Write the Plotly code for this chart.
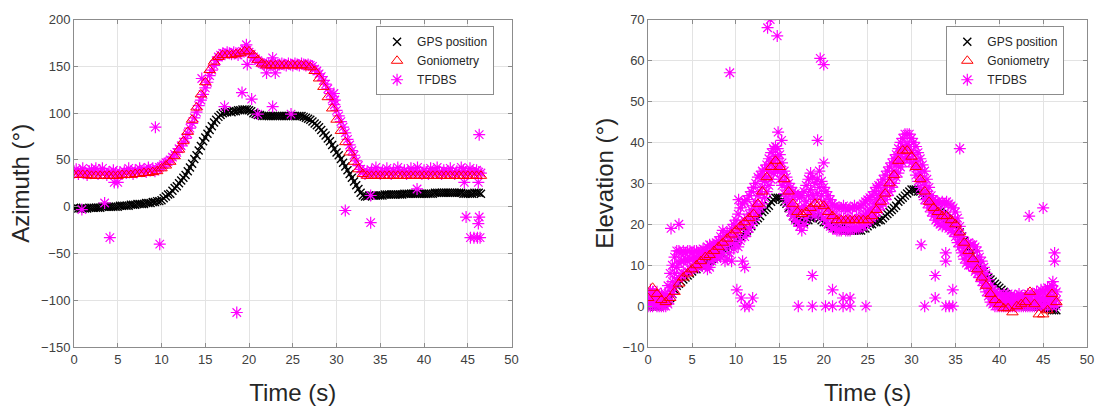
import plotly.graph_objects as go

# ---------------- sample times (s) ----------------
t_fast = [round(k * 0.25, 2) for k in range(187)]   # GPS / TFDBS samples, 0 .. 46.5 s
t_slow = [round(k * 0.5, 2) for k in range(94)]     # goniometry samples, 0 .. 46.5 s

# ---------------- azimuth (deg) ----------------
az_gps = [
    -1, -1, -2, -2,  -2, -2, -2, -1,  -1, -1, -1, -1,  -1, 0, 0, 0,  0, 0, 0, 0,
    0, 1, 1, 1,  1, 1, 2, 2,  2, 3, 3, 3,  3, 4, 4, 4,  5, 5, 6, 6,
    7, 9, 11, 13,  14, 17, 20, 22,  25, 28, 31, 34,  38, 42, 46, 51,  55, 60, 65, 70,
    74, 78, 82, 86,  90, 93, 96, 98,  100, 101, 101, 102,  101, 102, 102, 103,  103, 104, 104, 104,
    103, 102, 100, 99,  98, 98, 97, 97,  97, 97, 97, 97,  97, 97, 97, 97,  97, 97, 97, 97,
    97, 97, 97, 97,  97, 96, 95, 94,  93, 91, 89, 87,  85, 82, 79, 76,  73, 70, 66, 62,
    58, 55, 51, 47,  43, 39, 35, 31,  27, 23, 19, 15,  12, 11, 11, 12,  12, 12, 12, 12,
    12, 12, 13, 13,  13, 13, 13, 13,  13, 13, 13, 14,  14, 14, 14, 14,  14, 14, 14, 14,
    14, 14, 14, 14,  14, 15, 15, 15,  15, 15, 15, 15,  15, 15, 15, 15,  15, 15, 14, 14,
    14, 14, 14, 15,  15, 15, 14,
]

az_gonio = [
    34, 34, 34, 34, 33, 33, 33, 33, 33, 33,
    33, 34, 34, 34, 35, 35, 36, 36, 37, 38,
    41, 44, 48, 54, 61, 70, 80, 93, 106, 120,
    133, 146, 155, 160, 162, 162, 162, 163, 164, 166,
    166, 162, 157, 153, 151, 151, 151, 151, 151, 151,
    151, 151, 151, 151, 149, 145, 137, 128, 117, 105,
    93, 81, 69, 58, 48, 40, 35, 33, 33, 33,
    33, 33, 33, 33, 33, 33, 33, 33, 33, 33,
    33, 33, 33, 33, 33, 33, 33, 33, 33, 33,
    33, 33, 33, 33,
]

az_tfdbs = [
    38, 40, 35, 37,  41, 36, 34, 38,  40, 37, 41, 35,  38, 41, 36, 34,  37, 35, 39, 36,
    34, 37, 35, 38,  36, 41, 38, 35,  39, 37, 41, 38,  40, 37, 42, 39,  41, 38, 40, 42,
    43, 45, 47, 48,  50, 53, 56, 58,  62, 65, 69, 73,  78, 84, 89, 95,  101, 108, 114, 120,
    127, 133, 140, 146,  151, 156, 160, 162,  164, 163, 165, 164,  163, 165, 164, 162,  164, 166, 168, 167,
    165, 163, 160, 158,  156, 154, 153, 152,  152, 153, 151, 152,  153, 151, 152, 153,  152, 151, 153, 152,
    151, 153, 152, 151,  153, 152, 151, 152,  151, 150, 147, 145,  142, 139, 135, 131,  126, 121, 115, 109,
    103, 97, 91, 85,  79, 72, 66, 60,  55, 49, 44, 40,  37, 35, 38, 36,  39, 36, 42, 37,
    35, 38, 36, 41,  37, 35, 39, 36,  42, 38, 36, 39,  35, 37, 41, 36,  38, 42, 36, 35,
    39, 37, 35, 41,  36, 38, 42, 37,  35, 39, 36, 38,  41, 37, 35, 38,  36, 42, 39, 37,
    35, 41, 38, 36,  39, 37, 36,
]

# isolated TFDBS azimuth estimates
az_out_t = [0.9, 3.5, 4.1, 4.6, 5.0, 9.3, 9.8, 14.6, 17.2, 18.6, 19.2, 19.7, 19.8, 20.3,
            21.0, 22.0, 22.7, 23.0, 22.7, 24.8, 29.7, 29.8, 31.0, 33.9, 33.9, 39.2, 44.6,
            44.8, 45.3, 45.7, 46.1, 46.4, 46.2, 46.3, 46.3, 46.2]
az_out_v = [-3, 4, -33, 26, 26, 85, -40, 137, 107, -113, 122, 173, 152, 115,
            99, 143, 159, 143, 107, 99, 121, 114, -4, -17, 12, 19, 26,
            -11, -33, -33, -33, -33, -18, -11, 77, 26]

# ---------------- elevation (deg) ----------------
el_gps = [
    0, 0, 0, 0,  0, 0, 0.5, 0.5,  1, 1.5, 2, 3,  4, 5, 5.5, 6,  6.5, 7, 7.5, 8,
    8.5, 9, 9, 9.5,  10, 10, 10.5, 11,  11, 11.5, 12, 12,  12.5, 13, 13, 13.5,  14, 14.5, 15, 15.5,
    16, 16.5, 17, 17.5,  18, 18.5, 19, 19.5,  20.5, 21, 21.5, 22,  23, 23.5, 24, 24.5,  25.5, 26, 26.5, 26.5,
    26.5, 26, 25.5, 25,  24, 23, 22, 21.5,  21, 20.5, 20.5, 20.5,  21, 21, 21.5, 21.5,  22, 22, 21.5, 21,
    20.5, 20.5, 20, 20,  19.5, 19.5, 19, 19,  19, 18.5, 18.5, 18.5,  18.5, 18.5, 18.5, 18.5,  18.5, 18.5, 19, 19,
    19.5, 20, 20, 20.5,  20.5, 21, 21, 21.5,  22, 22.5, 23, 23.5,  24, 24.5, 25.5, 26,  26.5, 27, 27.5, 28,
    28.5, 28.5, 28.5, 28,  28, 27.5, 27, 26.5,  26, 25.5, 25, 24.5,  23.5, 23, 22.5, 22,  21.5, 21, 20.5, 20,
    19.5, 19, 18, 17,  16, 15, 14, 13,  12.5, 11.5, 10.5, 10,  9, 8.5, 7.5, 7,  6.5, 6, 5.5, 5,
    4.5, 4, 3.5, 3,  2.5, 2, 1.5, 1,  1, 0.5, 0.5, 0.5,  0, 0, 0, 0,  0, 0, 0, 0,
    0, -0.5, -0.5, -0.5,  -1, -1, -1,
]

el_gonio = [
    2, 4.5, 3, 1.5, 1, 2, 3.5, 5.5, 7, 8,
    9, 10, 11, 12, 12.5, 13.5, 14.5, 15.5, 16.5, 17.5,
    18.5, 19.5, 20.5, 21.5, 22.5, 25, 28, 31.5, 34, 35.5,
    34, 31, 28, 25, 23, 22.5, 23, 24, 25, 25,
    24.5, 23, 22, 21, 21, 21, 21, 21, 21, 21,
    21, 22, 23.5, 25.5, 27.5, 30, 32, 35.5, 38, 38,
    36.5, 34, 31, 28, 25.5, 24, 23, 22, 22, 21,
    20, 18, 15.5, 13.5, 11.5, 9, 7, 5, 3, 1.5,
    0.5, -0.5, -0.5, -1.5, 0, 0.5, 1, 3.5, 0.5, -2,
    -2, -1, 3, 1,
]

el_tfdbs_hi = [
    3, 4, 3.5, 3,  3.5, 2.5, 3, 2,  3, 5, 8, 10,  12, 13.5, 13.5, 13,  13.5, 13, 13.5, 13.5,
    13, 13.5, 13.5, 13,  13.5, 14, 13.5, 14.5,  15, 14.5, 15, 15.5,  16, 17, 18.5, 17,  18, 17.5, 19, 20,
    21, 22.5, 24, 25,  25.5, 26, 27, 28,  29, 30, 31.5, 32,  33, 33.5, 34.5, 36,  37.5, 38.5, 39, 38.5,
    37, 35, 33, 31.5,  30, 29, 28, 27.5,  27, 26.5, 27, 28,  29.5, 31, 32.5, 31.5,  30, 31, 33, 30.5,
    29, 28, 27, 26,  25, 24.5, 24, 24,  24, 24.5, 24, 23.5,  24, 24, 24.5, 24,  24, 24.5, 25, 25.5,
    26, 26.5, 27, 28,  29, 29.5, 30, 31,  32, 33, 34, 35,  36, 37, 38.5, 40,  41, 42, 42, 42,
    41, 40, 39, 37.5,  36, 34.5, 33, 31,  29, 27, 26, 25.5,  25.5, 25, 25.5, 25,  25.5, 25, 24.5, 24,
    23, 21.5, 19.5, 17,  15.5, 15, 15.5, 15,  15, 14.5, 13.5, 12,  11, 9.5, 8, 6.5,  5, 4, 3.5, 3,
    3, 2.5, 3, 2.5,  3, 2.5, 2, 2.5,  2.5, 3, 2.5, 2,  2.5, 3, 2.5, 3,  3, 3.5, 3, 4,
    3.5, 4, 4.5, 4,  5, 4, 3.5,
]

el_tfdbs_mid = [
    1.5, 2, 1, 2,  1.5, 1, 0.5, 1,  1.5, 2.5, 4.5, 6,  8, 9.5, 10.5, 11,  11, 11.5, 11, 11.5,
    11.5, 12, 11.5, 12,  12, 12.5, 12, 13,  13, 13.5, 13, 14,  14.5, 14, 15, 15.5,  15, 16, 15.5, 17,
    17.5, 18.5, 19.5, 20,  21, 21.5, 22.5, 23.5,  24.5, 25.5, 27, 28,  29, 30.5, 31.5, 33,  34.5, 35.5, 36.5, 36,
    34, 32.5, 30.5, 29,  27.5, 26, 25, 24,  23.5, 23, 23.5, 24.5,  25.5, 27, 28.5, 27,  26, 27.5, 29, 27,
    25.5, 24.5, 23.5, 22.5,  22, 21.5, 21.5, 21,  21, 21.5, 21, 21,  21, 21.5, 21, 21,  21.5, 21.5, 22, 22.5,
    23, 23.5, 24, 25,  26, 26.5, 27.5, 28,  29, 30, 31, 32,  33, 34.5, 35.5, 37,  38, 39, 39.5, 39,
    38, 37, 35.5, 34,  32.5, 31, 29.5, 28,  26.5, 25, 24, 23,  23, 22.5, 22, 22.5,  22, 21.5, 21, 20.5,
    20, 18.5, 17, 15,  13.5, 12.5, 12.5, 12,  11.5, 10.5, 10, 9,  8, 7, 5.5, 4.5,  3, 2.5, 2, 1.5,
    1.5, 1, 1.5, 1,  1.5, 1, 1, 1.5,  1, 1.5, 1, 1,  1.5, 1, 1.5, 1,  1.5, 2, 1.5, 2,
    1.5, 2, 2.5, 2,  2.5, 2, 1.5,
]

el_tfdbs_lo = [
    0, 0, 0, 0.5,  0, 0, 0, 0,  0, 0.5, 1.5, 3,  4.5, 6, 7, 7.5,  8, 8, 8.5, 9,
    9, 9.5, 10, 9.5,  10, 10.5, 10, 9,  9.5, 11, 11.5, 12,  12.5, 12, 13, 11,  11.5, 13, 11, 14,
    15, 14.5, 16, 11,  17, 18, 19, 20,  21, 22, 23, 24,  25, 26.5, 28, 29.5,  31, 32.5, 33.5, 33,
    31, 29.5, 27.5, 26,  24.5, 23, 22, 21,  20.5, 19.5, 18.5, 20,  21.5, 23, 24.5, 23,  22, 23.5, 24, 22.5,
    21.5, 21, 20, 19.5,  19, 19, 18.5, 18.5,  18.5, 19, 18.5, 18.5,  18.5, 19, 19, 19,  19, 19.5, 19.5, 20,
    20.5, 21, 21.5, 22,  23, 23.5, 24.5, 25,  26, 27, 28, 29,  30, 31.5, 32.5, 34,  35, 36, 36.5, 36,
    35, 34, 32, 30.5,  29, 27.5, 26, 25,  24, 23, 22, 21,  20.5, 20, 19.5, 20,  19.5, 19, 18.5, 18,
    17, 15.5, 14.5, 13,  11.5, 10.5, 10, 10,  9.5, 8.5, 8, 7,  6, 5, 3.5, 2.5,  1, 0.5, 0, 0,
    0, 0, 0, 0,  0, 0, 0, 0,  0, 0, 0, 0,  0, 0, 0, 0,  0, 0, 0.5, 0,
    0, 0, 0, 0.5,  0, 0.5, 0,
]

# isolated TFDBS elevation estimates
el_out_t = [2.6, 3.5, 9.3, 10.1, 10.3, 10.6, 11.0, 11.0, 11.5, 11.9, 13.6, 13.9, 14.7, 14.8,
            15.2, 17.1, 18.7, 18.7, 19.3, 19.6, 20.0, 20.0, 20.2, 21.0, 21.0, 22.2, 22.2,
            23.0, 23.0, 24.8, 31.1, 31.5, 32.7, 32.7, 33.9, 33.9, 33.9, 34.3, 34.7, 34.7,
            35.5, 43.4, 45.0, 46.1, 46.3, 46.3]
el_out_v = [19, 20, 57, 4, 26, 2, 9.5, 0, 0, 2, 68, 70, 66, 42.5,
            40.5, 0, 0, 7.5, 40.5, 60.5, 59, 35, 0, 0, 4, 2, 0,
            2, 0, 0, 15, 0, 7.5, 2, 13, 11, 0, 0, 0, 4,
            38.5, 22, 24, 6, 13, 11]

for name, arr, ref in [("az_gps", az_gps, t_fast), ("az_gonio", az_gonio, t_slow),
                       ("az_tfdbs", az_tfdbs, t_fast), ("el_gps", el_gps, t_fast),
                       ("el_gonio", el_gonio, t_slow), ("el_tfdbs_hi", el_tfdbs_hi, t_fast),
                       ("el_tfdbs_mid", el_tfdbs_mid, t_fast), ("el_tfdbs_lo", el_tfdbs_lo, t_fast),
                       ("az_out", az_out_v, az_out_t), ("el_out", el_out_v, el_out_t)]:
    assert len(arr) == len(ref), (name, len(arr), len(ref))

# ---------------- styling ----------------
FONT = "Arial, Liberation Sans, Helvetica, sans-serif"
BLACK, RED, MAGENTA = "#000000", "#ff0000", "#ff00ff"
series_names = ["GPS position", "Goniometry", "TFDBS"]


def gps_trace(x, y, xa, ya, legend):
    return go.Scatter(x=x, y=y, mode="markers", name=series_names[0], xaxis=xa, yaxis=ya,
                      legend=legend, legendrank=1,
                      marker=dict(symbol="x-thin-open", size=8, color=BLACK,
                                  line=dict(color=BLACK, width=1.4)))


def gonio_trace(x, y, xa, ya, legend):
    return go.Scatter(x=x, y=y, mode="markers", name=series_names[1], xaxis=xa, yaxis=ya,
                      legend=legend, legendrank=2,
                      marker=dict(symbol="triangle-up-open", size=10, color=RED,
                                  line=dict(color=RED, width=1)))


def tfdbs_trace(x, y, xa, ya, legend):
    return go.Scatter(x=x, y=y, mode="markers", name=series_names[2], xaxis=xa, yaxis=ya,
                      legend=legend, legendrank=3,
                      marker=dict(symbol="asterisk-open", size=10, color=MAGENTA,
                                  line=dict(color=MAGENTA, width=1.2)))


# drawing order: GPS, then the TFDBS cloud, then goniometry on top
fig = go.Figure()
fig.add_trace(gps_trace(t_fast, az_gps, "x", "y", "legend"))
fig.add_trace(tfdbs_trace(t_fast + az_out_t, az_tfdbs + az_out_v, "x", "y", "legend"))
fig.add_trace(gonio_trace(t_slow, az_gonio, "x", "y", "legend"))

fig.add_trace(gps_trace(t_fast, el_gps, "x2", "y2", "legend2"))
fig.add_trace(tfdbs_trace(t_fast * 3 + el_out_t,
                          el_tfdbs_hi + el_tfdbs_mid + el_tfdbs_lo + el_out_v,
                          "x2", "y2", "legend2"))
fig.add_trace(gonio_trace(t_slow, el_gonio, "x2", "y2", "legend2"))

W, H = 1101, 412
left_dom = [70.7 / W, 512.7 / W]
right_dom = [650.7 / W, 1094 / W]
y_dom = [(H - 353) / H, (H - 13) / H]

axis_common = dict(
    showgrid=True, gridcolor="#e3e3e3", gridwidth=1,
    showline=True, linecolor="#8c8c8c", linewidth=1, mirror="allticks",
    ticks="inside", ticklen=4, tickcolor="#8c8c8c", tickwidth=1,
    zeroline=False, tickfont=dict(family=FONT, size=13, color="#404040"),
)
title_font = dict(family=FONT, size=24, color="#262626")
legend_common = dict(
    y=(H - 20) / H, xanchor="right", yanchor="top",
    bgcolor="white", bordercolor="#8c8c8c", borderwidth=1,
    font=dict(family=FONT, size=12, color="#262626"), tracegroupgap=0,
    itemsizing="trace", traceorder="normal",
)

fig.update_layout(
    width=W, height=H, margin=dict(l=0, r=0, t=0, b=0),
    paper_bgcolor="white", plot_bgcolor="white",
    font=dict(family=FONT),
    showlegend=True,
    xaxis=dict(domain=left_dom, range=[0, 50], dtick=5, anchor="y",
               title=dict(text="Time (s)", font=title_font, standoff=18), **axis_common),
    yaxis=dict(domain=y_dom, range=[-150, 200], dtick=50, anchor="x",
               title=dict(text="Azimuth (°)", font=title_font, standoff=4), **axis_common),
    xaxis2=dict(domain=right_dom, range=[0, 50], dtick=5, anchor="y2",
                title=dict(text="Time (s)", font=title_font, standoff=18), **axis_common),
    yaxis2=dict(domain=y_dom, range=[-10, 70], dtick=10, anchor="x2",
                title=dict(text="Elevation (°)", font=title_font, standoff=2), **axis_common),
    legend=dict(x=495 / W, **legend_common),
    legend2=dict(x=1071 / W, **legend_common),
)

fig.write_html("out.html")
